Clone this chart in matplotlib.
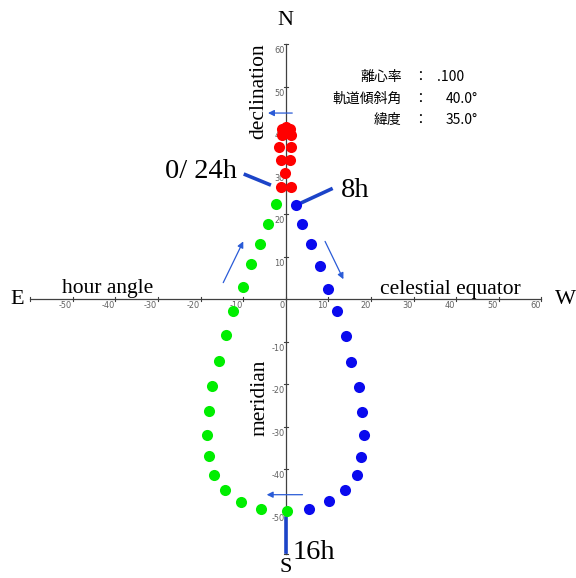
import numpy as np
import matplotlib
matplotlib.use("Agg")
import matplotlib.pyplot as plt

# hour angle (deg) / declination (deg) of the satellite positions
red_x = [0.0, -0.8, 0.9, -1.0, 1.2, -1.6, 1.3, -1.2, 0.9, -0.2, -1.2, 1.1]
red_y = [40.6, 40.0, 40.0, 38.6, 38.6, 35.8, 35.8, 32.7, 32.7, 29.7, 26.3, 26.3]

green_x = [-2.4, -4.2, -6.1, -8.2, -10.0, -12.4, -14.1, -15.7, -17.3, -18.1,
           -18.6, -18.0, -16.9, -14.2, -10.6, -5.9, 0.2]
green_y = [22.4, 17.8, 13.1, 8.2, 2.8, -2.7, -8.4, -14.6, -20.5, -26.3,
           -31.9, -37.0, -41.3, -45.0, -47.6, -49.3, -49.8]

blue_x = [2.3, 3.9, 5.9, 8.0, 9.8, 12.0, 14.0, 15.4, 17.1, 17.9,
          18.4, 17.7, 16.6, 13.8, 10.2, 5.5]
blue_y = [22.1, 17.6, 12.9, 7.8, 2.5, -2.8, -8.6, -14.8, -20.6, -26.5,
          -32.0, -37.2, -41.4, -45.0, -47.5, -49.3]

x_ticks = [-50, -40, -30, -20, -10, 0, 10, 20, 30, 40, 50, 60]
y_ticks = [-50, -40, -30, -20, -10, 10, 20, 30, 40, 50, 60]

params = [("離心率", ".100"), ("軌道傾斜角", "40.0°"), ("緯度", "35.0°")]

fig = plt.figure(figsize=(5.76, 5.78), dpi=100)
ax = fig.add_axes([0, 0, 1, 1])
ax.set_xlim(-67.1, 68.1)
ax.set_ylim(-65.6, 70.4)
ax.axis("off")

axis_col = "#404040"
tick_col = "#606060"
line_col = "#1c44c8"
arrow_col = "#2a5bd7"
serif = "Liberation Serif"

# axes through the origin
ax.plot([-60, 60], [0, 0], color=axis_col, lw=0.9, zorder=1)
ax.plot([0, 0], [-60, 60], color=axis_col, lw=0.9, zorder=1)
for t in [-60] + x_ticks:
    ax.plot([t, t], [-0.5, 0.5], color=axis_col, lw=0.8, zorder=1)
for t in [-60] + y_ticks:
    ax.plot([-0.5, 0.5], [t, t], color=axis_col, lw=0.8, zorder=1)

for t in x_ticks:
    ax.text(t - 0.2, -0.5, str(t), fontsize=5.9, color=tick_col,
            ha="right", va="top", zorder=1)
for t in y_ticks:
    ax.text(-0.3, t - 0.5, str(t), fontsize=5.9, color=tick_col,
            ha="right", va="top", zorder=1)

# orbit track
ax.scatter(green_x, green_y, s=64, color="#00ee00", linewidths=0, zorder=3)
ax.scatter(blue_x, blue_y, s=64, color="#0a0aee", linewidths=0, zorder=3)
ax.scatter(red_x, red_y, s=64, color="#ff0000", linewidths=0, zorder=3)

# direction arrows
arrows = [((1.5, 43.8), (-4.2, 43.8)),
          ((3.9, -46.0), (-4.5, -46.0)),
          ((-14.7, 3.9), (-10.0, 13.6)),
          ((9.2, 13.6), (13.5, 4.7))]
for tail, head in arrows:
    ax.annotate("", xy=head, xytext=tail, zorder=2,
                arrowprops=dict(arrowstyle="-|>", color=arrow_col, lw=0.9,
                                mutation_scale=9, shrinkA=0, shrinkB=0))

# time markers
ax.plot([-9.5, -3.9], [29.3, 27.0], color=line_col, lw=2.6, zorder=2)
ax.plot([3.9, 10.6], [22.8, 25.9], color=line_col, lw=2.6, zorder=2)
ax.plot([0, 0], [-51.5, -59.5], color=line_col, lw=2.6, zorder=2)

big = 20.5
ax.text(-20.0, 30.0, "0/ 24h", fontsize=big, family=serif, ha="center", va="center")
ax.text(16.3, 25.6, "8h", fontsize=big, family=serif, ha="center", va="center")
ax.text(6.6, -59.5, "16h", fontsize=big, family=serif, ha="center", va="center")

ax.text(0, 65.6, "N", fontsize=16, family=serif, ha="center", va="center")
ax.text(0, -63.2, "S", fontsize=16, family=serif, ha="center", va="center")
ax.text(-63.1, 0, "E", fontsize=16, family=serif, ha="center", va="center")
ax.text(65.7, 0, "W", fontsize=16, family=serif, ha="center", va="center")

mid = 15.5
ax.text(-41.8, 1.4, "hour angle", fontsize=mid, family=serif, ha="center", va="baseline")
ax.text(22.1, 1.2, "celestial equator", fontsize=mid, family=serif, ha="left", va="baseline")
ax.text(-6.3, 48.9, "declination", fontsize=mid, family=serif, rotation=90,
        ha="center", va="center")
ax.text(-6.0, -23.3, "meridian", fontsize=mid, family=serif, rotation=90,
        ha="center", va="center")

# orbital elements
jp = ["Noto Sans CJK JP", "DejaVu Sans"]
rows_y = [52.2, 47.1, 42.1]
for (name, val), yy in zip(params, rows_y):
    ax.text(27.2, yy, name, fontsize=10, family=jp, ha="right", va="center")
    ax.text(31.5, yy, "：", fontsize=10, family=jp, ha="center", va="center")
    vx = 35.4 if val.startswith(".") else 37.6
    ax.text(vx, yy, val, fontsize=10, family=jp, ha="left", va="center")

fig.savefig("out.png", dpi=100)
